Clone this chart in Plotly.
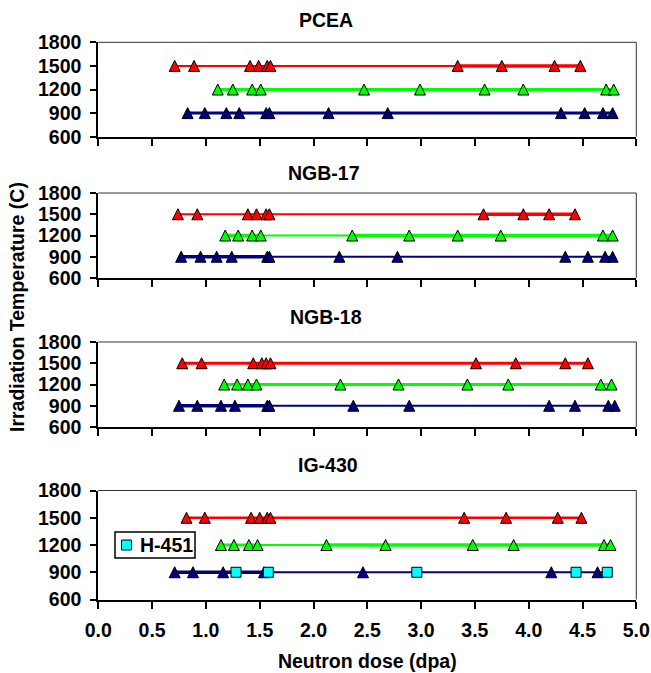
import plotly.graph_objects as go

# ---------------- data (neutron dose, dpa) ----------------
panels = ["PCEA", "NGB-17", "NGB-18", "IG-430"]
temperatures = [1500, 1200, 900]

pcea_1500 = [0.71, 0.89, 1.41, 1.49, 1.57, 1.60, 3.34, 3.75, 4.24, 4.48]
pcea_1200 = [1.11, 1.25, 1.43, 1.51, 2.47, 2.99, 3.59, 3.95, 4.72, 4.79]
pcea_900 = [0.83, 0.99, 1.19, 1.31, 1.56, 1.59, 2.14, 2.69, 4.30, 4.52, 4.69, 4.78]

ngb17_1500 = [0.74, 0.92, 1.39, 1.47, 1.56, 1.59, 3.58, 3.95, 4.19, 4.43]
ngb17_1200 = [1.18, 1.30, 1.43, 1.51, 2.36, 2.89, 3.34, 3.74, 4.69, 4.78]
ngb17_900 = [0.77, 0.95, 1.10, 1.24, 1.57, 1.59, 2.24, 2.78, 4.34, 4.55, 4.71, 4.78]

ngb18_1500 = [0.78, 0.96, 1.44, 1.52, 1.56, 1.60, 3.51, 3.88, 4.34, 4.55]
ngb18_1200 = [1.17, 1.29, 1.39, 1.47, 2.25, 2.79, 3.43, 3.81, 4.67, 4.77]
ngb18_900 = [0.75, 0.92, 1.14, 1.27, 1.57, 1.59, 2.37, 2.89, 4.19, 4.43, 4.74, 4.80]

ig430_1500 = [0.82, 0.99, 1.42, 1.50, 1.57, 1.60, 3.40, 3.79, 4.27, 4.49]
ig430_1200 = [1.14, 1.26, 1.40, 1.48, 2.12, 2.67, 3.48, 3.86, 4.70, 4.76]
ig430_900 = [0.71, 0.88, 1.16, 1.54, 2.46, 4.21, 4.64]
h451_900 = [1.28, 1.58, 2.96, 4.44, 4.73]

x_tick_vals = [0.0, 0.5, 1.0, 1.5, 2.0, 2.5, 3.0, 3.5, 4.0, 4.5, 5.0]
y_tick_vals = [600, 900, 1200, 1500, 1800]

series = {
    "PCEA": {1500: pcea_1500, 1200: pcea_1200, 900: pcea_900},
    "NGB-17": {1500: ngb17_1500, 1200: ngb17_1200, 900: ngb17_900},
    "NGB-18": {1500: ngb18_1500, 1200: ngb18_1200, 900: ngb18_900},
    "IG-430": {1500: ig430_1500, 1200: ig430_1200, 900: ig430_900},
}

# ---------------- style ----------------
W, H = 651, 673
colors = {1500: "#FF0000", 1200: "#00FF00", 900: "#000080"}
h451_color = "#00FFFF"
FONT = "Liberation Sans, Arial, sans-serif"
FS = 19.5
TRI = 11  # triangle marker size (px): equal width and height, centred on the point

# line segments: (start index, end index, width) on the sorted line points
segments = {
    "PCEA": {1500: [(0, 6, 2), (6, 9, 3.5)], 1200: [(0, 9, 3)], 900: [(0, 11, 3)]},
    "NGB-17": {1500: [(0, 6, 2), (6, 9, 3.5)], 1200: [(0, 3, 3.5), (3, 4, 2), (4, 9, 3.5)],
               900: [(0, 5, 3.5), (5, 11, 2)]},
    "NGB-18": {1500: [(0, 9, 3)], 1200: [(0, 9, 3)], 900: [(0, 5, 3.5), (5, 11, 2)]},
    "IG-430": {1500: [(0, 9, 2.5)], 1200: [(0, 3, 3), (3, 4, 2), (4, 9, 3.5)],
               900: [(0, 5, 3.5), (5, 11, 2)]},
}

# pixel geometry of the plot areas
x_left, x_right = 98.3, 636.3
panel_px = [(42.3, 136.7), (193.0, 278.0), (342.0, 427.0), (490.5, 599.5)]
title_px = [(326, 20), (324, 173), (326, 317), (328, 465)]
legend_box_px = (115, 532, 195, 558)

fig = go.Figure()

for p_i, name in enumerate(panels):
    ax = "" if p_i == 0 else str(p_i + 1)
    xr, yr = "x" + ax, "y" + ax
    for t in temperatures:
        xs = list(series[name][t])
        if name == "IG-430" and t == 900:
            xs = sorted(xs + h451_900)
        for (a, b, w) in segments[name][t]:
            seg = xs[a:b + 1]
            fig.add_trace(go.Scatter(
                x=seg, y=[t] * len(seg), mode="lines", xaxis=xr, yaxis=yr,
                line=dict(color=colors[t], width=w), showlegend=False, hoverinfo="skip"))
    for t in temperatures:
        xs = series[name][t]
        fig.add_trace(go.Scatter(
            x=xs, y=[t] * len(xs), mode="markers", xaxis=xr, yaxis=yr,
            marker=dict(symbol="arrow-down", angle=180, size=TRI, standoff=TRI / 2,
                        color=colors[t], line=dict(color="black", width=1)),
            showlegend=False, name=f"{name} {t}C"))
    if name == "IG-430":
        fig.add_trace(go.Scatter(
            x=h451_900, y=[900] * len(h451_900), mode="markers", xaxis=xr, yaxis=yr,
            marker=dict(symbol="square", size=10, color=h451_color,
                        line=dict(color="black", width=1)),
            name="H-451", showlegend=False))

layout = dict(
    width=W, height=H, margin=dict(l=0, r=0, t=0, b=0, pad=0, autoexpand=False),
    paper_bgcolor="white", plot_bgcolor="white",
    font=dict(family=FONT, size=FS, color="black", weight="bold"),
    showlegend=False,
)

shapes = []
annotations = []
for p_i, name in enumerate(panels):
    ax = "" if p_i == 0 else str(p_i + 1)
    top, bot = panel_px[p_i]
    y0, y1 = 1 - bot / H, 1 - top / H
    last = p_i == len(panels) - 1
    layout["xaxis" + ax] = dict(
        domain=[x_left / W, x_right / W], anchor="y" + ax, range=[0, 5],
        tickvals=x_tick_vals, ticktext=[f"{v:.1f}" for v in x_tick_vals],
        showticklabels=last, ticks="outside", ticklen=7, tickwidth=1.5, tickcolor="black",
        showline=True, linecolor="black", linewidth=2, showgrid=False, zeroline=False,
        tickfont=dict(family=FONT, size=FS, color="black", weight="bold"),
        ticklabelstandoff=5, automargin=False,
        title=dict(text="Neutron dose (dpa)" if last else "", standoff=14,
                   font=dict(family=FONT, size=FS, color="black", weight="bold")),
        fixedrange=True,
    )
    layout["yaxis" + ax] = dict(
        domain=[y0, y1], anchor="x" + ax, range=[600, 1800],
        tickvals=y_tick_vals, ticks="outside", ticklen=6, tickwidth=1.5, tickcolor="black",
        showline=True, linecolor="black", linewidth=2, showgrid=False, zeroline=False,
        tickfont=dict(family=FONT, size=FS, color="black", weight="bold"),
        ticklabelstandoff=5, automargin=False, fixedrange=True,
    )
    # thin top and right border of the plot area
    shapes.append(dict(type="line", xref="paper", yref="paper",
                       x0=x_left / W, x1=x_right / W, y0=y1, y1=y1,
                       line=dict(color="#333333", width=1)))
    shapes.append(dict(type="line", xref="paper", yref="paper",
                       x0=x_right / W, x1=x_right / W, y0=y0, y1=y1,
                       line=dict(color="#333333", width=1)))
    tx, ty = title_px[p_i]
    annotations.append(dict(text=name, xref="paper", yref="paper", x=tx / W, y=1 - ty / H,
                            xanchor="center", yanchor="middle", showarrow=False,
                            font=dict(family=FONT, size=FS, color="black", weight="bold")))

# legend box for the H-451 series (drawn as layout shapes + text)
lx0, ly0, lx1, ly1 = legend_box_px
shapes.append(dict(type="rect", xref="paper", yref="paper",
                   x0=lx0 / W, x1=lx1 / W, y0=1 - ly1 / H, y1=1 - ly0 / H,
                   fillcolor="white", line=dict(color="black", width=1.5), layer="above"))
sw_cx, sw_cy, sw = lx0 + 11.5, (ly0 + ly1) / 2, 10
shapes.append(dict(type="rect", xref="paper", yref="paper",
                   x0=(sw_cx - sw / 2) / W, x1=(sw_cx + sw / 2) / W,
                   y0=1 - (sw_cy + sw / 2) / H, y1=1 - (sw_cy - sw / 2) / H,
                   fillcolor=h451_color, line=dict(color="black", width=1), layer="above"))
annotations.append(dict(text="H-451", xref="paper", yref="paper",
                        x=(lx0 + 23) / W, y=1 - sw_cy / H, xanchor="left", yanchor="middle",
                        showarrow=False,
                        font=dict(family=FONT, size=FS, color="black", weight="bold")))

annotations.append(dict(text="Irradiation Temperature (C)", xref="paper", yref="paper",
                        x=17 / W, y=1 - 307 / H, xanchor="center", yanchor="middle",
                        textangle=-90, showarrow=False,
                        font=dict(family=FONT, size=FS, color="black", weight="bold")))

layout["shapes"] = shapes
layout["annotations"] = annotations
fig.update_layout(**layout)

fig.write_html("out.html", config={"displayModeBar": False})
